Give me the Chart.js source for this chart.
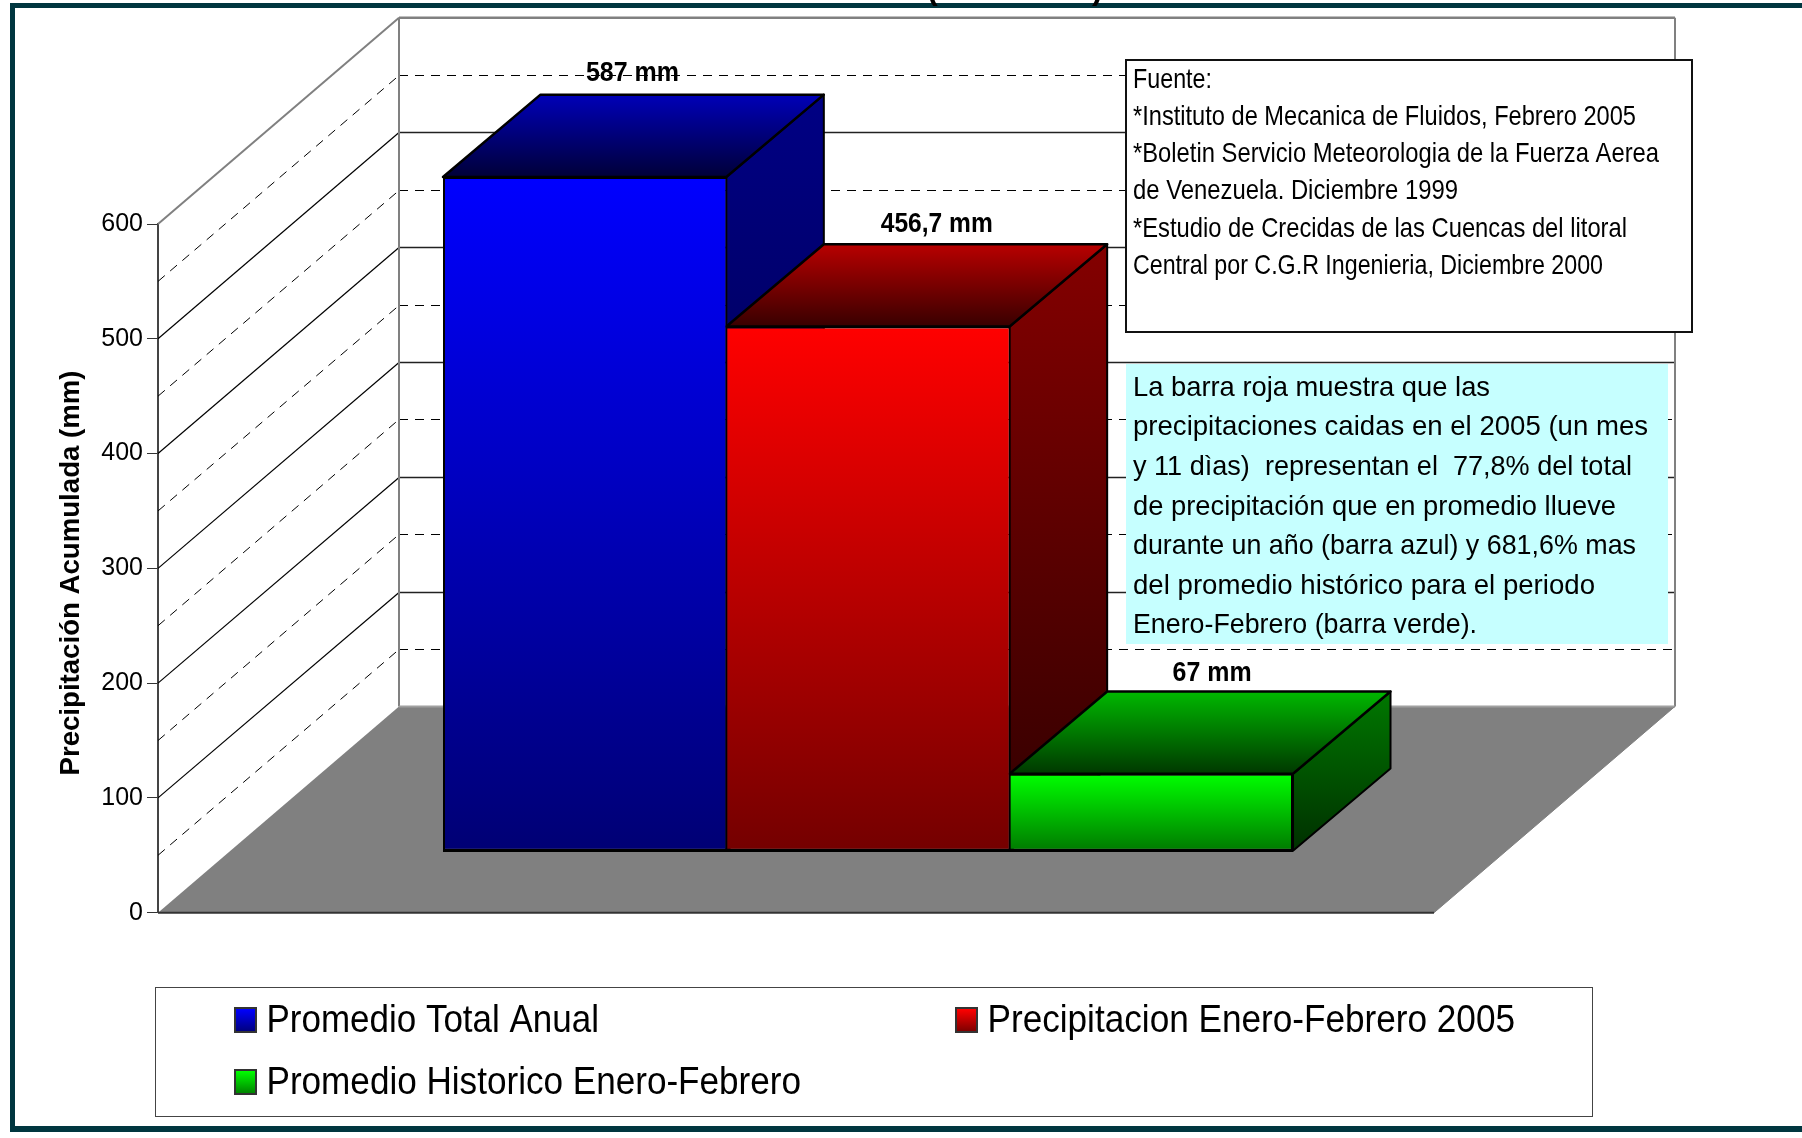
<!DOCTYPE html>
<html>
<head>
<meta charset="utf-8">
<title>Precipitación Acumulada</title>
<script src="https://cdn.jsdelivr.net/npm/chart.js@4/dist/chart.umd.min.js"></script>
<style>
    html, body { margin: 0; padding: 0; background: #fff; }
    #box { width: 1802px; height: 1138px; }
</style>
</head>
<body>
<div id="box"><canvas id="chart" width="1802" height="1138"></canvas></div>
<script>
const seriesNames = ['Promedio Total Anual', 'Precipitacion Enero-Febrero 2005', 'Promedio Historico Enero-Febrero'];
const seriesValues = [587, 456.7, 67];
const valueLabels = ['587 mm', '456,7 mm', '67 mm'];
const minorGridValues = [50, 150, 250, 350, 450, 550];
const axisTitle = 'Precipitación Acumulada (mm)';

const sourceLines = [
    'Fuente:',
    '*Instituto de Mecanica de Fluidos, Febrero 2005',
    '*Boletin Servicio Meteorologia de la Fuerza Aerea',
    'de Venezuela. Diciembre 1999',
    '*Estudio de Crecidas de las Cuencas del litoral',
    'Central por C.G.R Ingenieria, Diciembre 2000'
];
const noteLines = [
    'La barra roja muestra que las',
    'precipitaciones caidas en el 2005 (un mes',
    'y 11 dìas)  representan el  77,8% del total',
    'de precipitación que en promedio llueve',
    'durante un año (barra azul) y 681,6% mas',
    'del promedio histórico para el periodo',
    'Enero-Febrero (barra verde).'
];

// [bright, dark] for front face, top face, side face
const barColors = [
    { front: ['#0000ff', '#000074'], top: ['#0000b8', '#000038'], side: ['#000084', '#000030'] },
    { front: ['#ff0000', '#740000'], top: ['#b80000', '#380000'], side: ['#840000', '#300000'] },
    { front: ['#00ff00', '#007a00'], top: ['#00b800', '#003800'], side: ['#007800', '#003000'] }
];

const FONT = '"Liberation Sans"';

// 3D box of the old spreadsheet chart
const wallDepth = { x: 241, y: 206.3 };
const barDepth = { x: 97.5, y: 82.3 };
const floorWidth = 1276;

// where text runs end in the source, it was squeezed line by line
const sourceEnds = [1212, 1636, 1659, 1458, 1627, 1603];
const noteEnds = [1490, 1648, 1632, 1616, 1636, 1595, 1477];
const legendSpots = [[235, 1021, 599], [956, 1021, 1515], [235, 1083, 801]];
const labelWidths = [93, 112, 79];
const labelShift = [-1, 20, 12];
const labelRise = [21.5, 19.5, 18];

function poly(ctx, pts, fill, stroke, lw) {
    ctx.beginPath();
    pts.forEach((p, i) => i ? ctx.lineTo(p[0], p[1]) : ctx.moveTo(p[0], p[1]));
    ctx.closePath();
    if (fill) { ctx.fillStyle = fill; ctx.fill(); }
    if (stroke) { ctx.strokeStyle = stroke; ctx.lineWidth = lw || 1; ctx.lineJoin = 'round'; ctx.stroke(); }
}

function line(ctx, x1, y1, x2, y2, color, lw, dash) {
    ctx.beginPath();
    ctx.setLineDash(dash || []);
    ctx.moveTo(x1, y1);
    ctx.lineTo(x2, y2);
    ctx.strokeStyle = color;
    ctx.lineWidth = lw;
    ctx.stroke();
    ctx.setLineDash([]);
}

function vGrad(ctx, y1, y2, colors) {
    const g = ctx.createLinearGradient(0, y1, 0, y2);
    g.addColorStop(0, colors[0]);
    g.addColorStop(1, colors[1]);
    return g;
}

// draws text squeezed sideways so it takes exactly the given width
function fitText(ctx, text, x, y, font, width) {
    ctx.save();
    ctx.font = font;
    ctx.fillStyle = '#000';
    ctx.textBaseline = 'middle';
    ctx.textAlign = 'left';
    const sx = width / ctx.measureText(text).width;
    ctx.translate(x, y);
    ctx.scale(sx, 1);
    ctx.fillText(text, 0, 0);
    ctx.restore();
}

const box3d = {
    id: 'box3d',
    beforeDatasetsDraw(chart) {
        const ctx = chart.ctx;
        const y = chart.scales.y;
        const left = chart.chartArea.left;
        const y0 = y.getPixelForValue(0);
        const dx = wallDepth.x, dy = wallDepth.y;
        const backLeft = left + dx;
        const backRight = left + floorWidth + dx;

        ctx.save();
        // floor
        poly(ctx, [[left, y0], [backLeft, y0 - dy], [backRight, y0 - dy], [left + floorWidth, y0]], '#808080');

        // grid lines on both walls
        y.ticks.forEach(t => {
            if (t.value === 0 || t.value === 600) return;
            const py = y.getPixelForValue(t.value);
            const by = Math.round(py - dy) + 0.5;
            line(ctx, left, py, backLeft, by, '#000', 1.2);
            line(ctx, backLeft, by, backRight, by, '#222', 1.5);
        });
        minorGridValues.forEach(v => {
            const py = y.getPixelForValue(v);
            const by = Math.round(py - dy) + 0.5;
            line(ctx, left, py, backLeft, by, '#000', 1, [9, 7]);
            line(ctx, backLeft, by, backRight, by, '#000', 1, [9, 7]);
        });

        // wall outline
        const top = y.getPixelForValue(600);
        line(ctx, left, top, backLeft, top - dy, '#808080', 2);
        line(ctx, backLeft, top - dy, backRight, top - dy, '#808080', 2.5);
        line(ctx, backLeft, top - dy, backLeft, y0 - dy, '#808080', 2);
        line(ctx, backRight, top - dy, backRight, y0 - dy, '#808080', 2);
        line(ctx, backLeft, y0 - dy, backRight, y0 - dy, '#a0a0a0', 2);
        line(ctx, backRight, y0 - dy, left + floorWidth, y0, '#808080', 1);
        line(ctx, left, y0, left + floorWidth, y0, '#333', 2);

        // top and side faces of the bars, back to front
        chart.data.datasets.forEach((ds, i) => {
            const bar = chart.getDatasetMeta(i).data[0];
            const l = bar.x - bar.width / 2, r = bar.x + bar.width / 2;
            const t = bar.y, b = bar.base;
            const c = barColors[i];
            poly(ctx, [[r, t], [r + barDepth.x, t - barDepth.y], [r + barDepth.x, b - barDepth.y], [r, b]],
                vGrad(ctx, t - barDepth.y, b, c.side), '#000', 2);
            poly(ctx, [[l, t], [l + barDepth.x, t - barDepth.y], [r + barDepth.x, t - barDepth.y], [r, t]],
                vGrad(ctx, t - barDepth.y, t, c.top), '#000', 2.5);
        });
        ctx.restore();
    },
    afterDatasetsDraw(chart) {
        const ctx = chart.ctx;
        ctx.save();

        // one foot line under all the bars
        const first = chart.getDatasetMeta(0).data[0];
        const last = chart.getDatasetMeta(2).data[0];
        line(ctx, first.x - first.width / 2, first.base, last.x + last.width / 2, last.base, '#000', 2.5);

        // value labels above each bar
        chart.data.datasets.forEach((ds, i) => {
            const bar = chart.getDatasetMeta(i).data[0];
            const cx = bar.x + barDepth.x / 2 + labelShift[i];
            fitText(ctx, valueLabels[i], cx - labelWidths[i] / 2, bar.y - barDepth.y - labelRise[i], 'bold 27px ' + FONT, labelWidths[i]);
        });

        // axis title
        ctx.save();
        ctx.translate(72, 573);
        ctx.rotate(-Math.PI / 2);
        fitText(ctx, axisTitle, -202.5, 0, 'bold 27px ' + FONT, 405);
        ctx.restore();

        // source box
        ctx.fillStyle = '#fff';
        ctx.fillRect(1126, 60, 566, 272);
        ctx.strokeStyle = '#111';
        ctx.lineWidth = 2;
        ctx.strokeRect(1126, 60, 566, 272);
        sourceLines.forEach((txt, i) => fitText(ctx, txt, 1133, 80 + i * 37.2, '28px ' + FONT, sourceEnds[i] - 1133));

        // note box
        ctx.fillStyle = '#c6ffff';
        ctx.fillRect(1126, 364, 542, 280);
        noteLines.forEach((txt, i) => fitText(ctx, txt, 1133, 388 + i * 39.6, '28px ' + FONT, noteEnds[i] - 1133));

        // legend
        ctx.strokeStyle = '#444';
        ctx.lineWidth = 1;
        ctx.strokeRect(155.5, 987.5, 1437, 129);
        seriesNames.forEach((name, i) => {
            const sx = legendSpots[i][0], sy = legendSpots[i][1], end = legendSpots[i][2];
            ctx.fillStyle = vGrad(ctx, sy - 12, sy + 12, barColors[i].front);
            ctx.fillRect(sx, sy - 13, 21, 24);
            ctx.strokeStyle = '#333';
            ctx.lineWidth = 2;
            ctx.strokeRect(sx, sy - 13, 21, 24);
            fitText(ctx, name, sx + 31.5, sy, '39px ' + FONT, end - sx - 31.5);
        });

        // page frame, the title above it is cut off in the source
        ctx.fillStyle = '#00363f';
        ctx.fillRect(10, 3, 1792, 5);
        ctx.fillRect(10, 3, 5, 1129);
        ctx.fillRect(10, 1126, 1792, 6);
        ctx.fillStyle = '#000';
        ctx.font = 'bold 32px ' + FONT;
        ctx.textAlign = 'left';
        ctx.textBaseline = 'alphabetic';
        ctx.fillText('(', 927, -1);
        ctx.fillText(')', 1092, -1);
        ctx.restore();
    }
};

const outerBorders = [
    { top: 2, bottom: 2, left: 2, right: 1 },
    { top: 2, bottom: 2, left: 1, right: 1 },
    { top: 2, bottom: 2, left: 1, right: 2 }
];

new Chart(document.getElementById('chart').getContext('2d'), {
    type: 'bar',
    data: {
        labels: ['Precipitación'],
        datasets: seriesNames.map((name, i) => ({
            label: name,
            data: [seriesValues[i]],
            yAxisID: 'yBar',
            clip: false,
            backgroundColor: c => {
                const s = c.chart.scales.yBar;
                const top = s ? s.getPixelForValue(seriesValues[i]) : NaN;
                const base = s ? s.getPixelForValue(0) : NaN;
                if (!Number.isFinite(top) || !Number.isFinite(base)) return barColors[i].front[0];
                return vGrad(c.chart.ctx, top, base, barColors[i].front);
            },
            borderColor: '#000',
            borderWidth: outerBorders[i],
            borderSkipped: false,
            categoryPercentage: 0.5986,
            barPercentage: 1
        }))
    },
    options: {
        responsive: false,
        animation: false,
        events: [],
        layout: { padding: { left: 0, top: 224, right: 224, bottom: 225.3 } },
        plugins: {
            legend: { display: false },
            tooltip: { enabled: false }
        },
        scales: {
            x: { display: false },
            y: {
                min: 0,
                max: 600,
                afterFit: s => { s.width = 158; },
                ticks: {
                    stepSize: 100,
                    color: '#000',
                    padding: 4,
                    font: { family: FONT, size: 25 }
                },
                grid: { drawOnChartArea: false, tickLength: 11, tickColor: '#333', tickWidth: 1 },
                border: { color: '#444', width: 2 }
            },
            // bars stand back from the front edge of the floor
            yBar: { display: false, min: -54, max: 546 }
        }
    },
    plugins: [box3d]
});
</script>
</body>
</html>
